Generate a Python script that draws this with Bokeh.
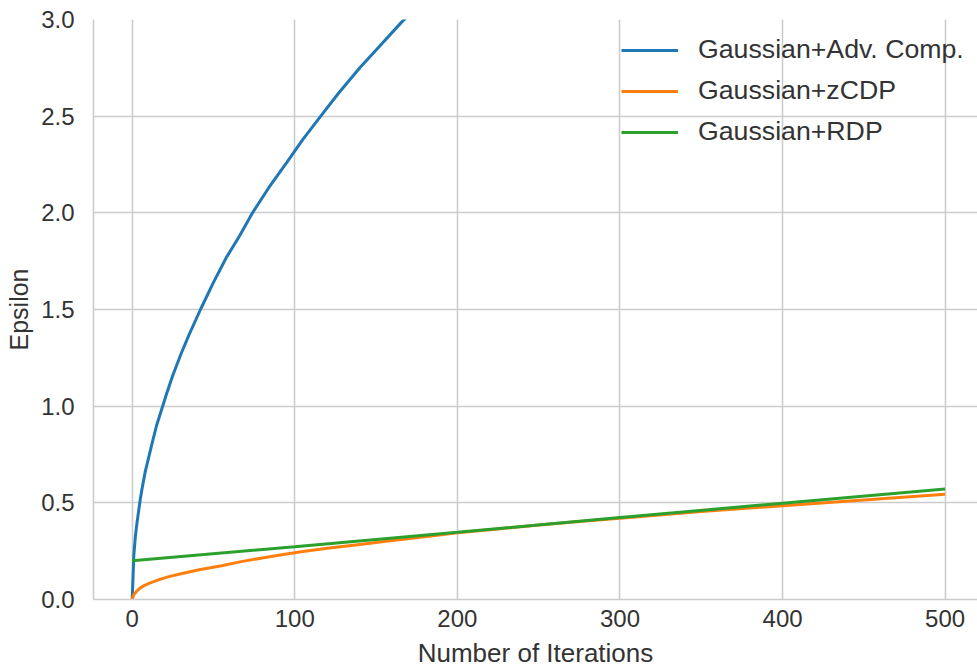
from bokeh.plotting import figure
from bokeh.models import Legend, LegendItem, FixedTicker, NumeralTickFormatter, Range1d
from bokeh.embed import file_html
from bokeh.resources import INLINE

# --- data ---
iter_adv = [0, 1, 2, 3, 4, 5, 6, 8, 10, 12, 15, 18, 21, 25, 30, 35, 42, 50, 58, 66,
            74, 84, 95, 105, 115, 127, 140, 152, 165, 180]
eps_adv = [0, 0.23, 0.33, 0.40, 0.46, 0.52, 0.57, 0.66, 0.73, 0.80, 0.90, 0.98, 1.06, 1.16, 1.27,
           1.37, 1.50, 1.64, 1.77, 1.88, 2.0, 2.13, 2.26, 2.38, 2.49, 2.62, 2.75, 2.86, 2.98, 3.11]

iter_zcdp = [0, 1, 2, 3, 5, 7, 10, 14, 17, 22, 30, 42, 55, 67, 80, 91, 105, 120, 140, 160,
             180, 200, 225, 250, 275, 300, 350, 400, 450, 500]
eps_zcdp = [0, 0.025, 0.035, 0.045, 0.06, 0.07, 0.082, 0.095, 0.104, 0.117, 0.133, 0.155, 0.175,
            0.196, 0.215, 0.23, 0.248, 0.265, 0.285, 0.305, 0.325, 0.345, 0.365, 0.385, 0.403,
            0.42, 0.455, 0.485, 0.515, 0.545]

iter_rdp = [0, 100, 200, 300, 400, 500]
eps_rdp = [0.20, 0.273, 0.348, 0.424, 0.498, 0.572]

series_labels = ["Gaussian+Adv. Comp.", "Gaussian+zCDP", "Gaussian+RDP"]
x_ticks = [0, 100, 200, 300, 400, 500]
y_ticks = [0.0, 0.5, 1.0, 1.5, 2.0, 2.5, 3.0]

FONT = "Liberation Sans"
TXT = "#333333"
GRID = "#cccccc"

p = figure(width=977, height=670, output_backend="svg", toolbar_location=None,
           x_range=Range1d(-23.8, 519.9), y_range=Range1d(0, 3.0),
           min_border_left=93, min_border_right=0, min_border_top=19, min_border_bottom=71)
p.outline_line_color = None
p.background_fill_color = "white"
p.border_fill_color = "white"

r1 = p.line(iter_adv, eps_adv, line_color="#1f77b4", line_width=3)
r2 = p.line(iter_zcdp, eps_zcdp, line_color="#ff7f0e", line_width=3)
r3 = p.line(iter_rdp, eps_rdp, line_color="#2ca02c", line_width=3)

p.xaxis.ticker = FixedTicker(ticks=x_ticks)
p.yaxis.ticker = FixedTicker(ticks=y_ticks)
p.yaxis.formatter = NumeralTickFormatter(format="0.0")

for ax in (p.xaxis, p.yaxis):
    ax.major_tick_line_color = None
    ax.minor_tick_line_color = None
    ax.axis_line_color = GRID
    ax.axis_line_width = 1.6
    ax.major_label_text_font = FONT
    ax.major_label_text_font_size = "24px"
    ax.major_label_text_color = TXT
    ax.axis_label_text_font = FONT
    ax.axis_label_text_font_style = "normal"
    ax.axis_label_text_color = TXT

p.xaxis.axis_label = "Number of Iterations"
p.xaxis.axis_label_text_font_size = "26px"
p.xaxis.major_label_standoff = 4
p.xaxis.axis_label_standoff = 8

p.yaxis.axis_label = "Epsilon"
p.yaxis.axis_label_text_font_size = "25px"
p.yaxis.major_label_standoff = 13
p.yaxis.axis_label_standoff = 5

for g in (p.xgrid, p.ygrid):
    g.grid_line_color = GRID
    g.grid_line_width = 1.6

legend = Legend(items=[LegendItem(label=series_labels[0], renderers=[r1]),
                       LegendItem(label=series_labels[1], renderers=[r2]),
                       LegendItem(label=series_labels[2], renderers=[r3])],
                location=(528, 452), orientation="vertical",
                border_line_color=None, background_fill_alpha=0,
                padding=0, margin=0, spacing=10,
                glyph_width=57, glyph_height=30, label_height=30, label_standoff=20,
                label_text_font=FONT, label_text_font_size="26.7px", label_text_color=TXT)
p.add_layout(legend)

open("out.html", "w").write(file_html(p, INLINE))
